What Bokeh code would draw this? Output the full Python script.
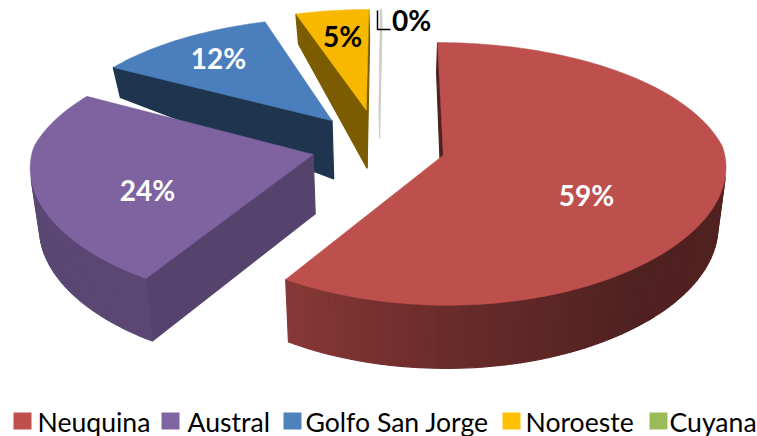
import numpy as np
from bokeh.plotting import figure
from bokeh.embed import file_html
from bokeh.resources import INLINE
from bokeh.core.properties import value

# ---- data ----
categories = ["Neuquina", "Austral", "Golfo San Jorge", "Noroeste", "Cuyana"]
shares = [59, 24, 12, 5, 0.1]
share_labels = ["59%", "24%", "12%", "5%", "0%"]

# ---- styles ----
legend_colors = ["#C0504D", "#8064A2", "#4F81BD", "#FFC000", "#9BBB59"]
top_colors = ["#BD4F4C", "#7F62A0", "#4A7EBC", "#F8B800", "#CDCFC8"]
label_colors = ["white", "white", "white", "black", "black"]
explode = [0.24, 0.24, 0.27, 0.30, 0.30]
radial_shade = [0.42, 0.68, 0.42, 0.50, 1.0]
depth_scale = [1, 1, 1, 1, 0.5]
label_pos = [(586, 194), (147, 189), (218, 57), (342, 35), (411, 19)]
swatch_x = [13, 161, 283, 502, 649]
legend_text_x = [37, 187, 305, 525, 669]

# projection of the tilted pie into the picture
VX, CX, CY, A, B, BOTTOM = 398, 378, 146, 280, 129, 0.975
KX_BACK, KX_FRONT, KY_BACK, KY_FRONT = 0.15, 0.08, 0.17, 0.125


def project(X, Y):
    sx = 1 / (1 + np.where(Y > 0, KX_BACK, KX_FRONT) * Y)
    sy = 1 / (1 + np.where(Y > 0, KY_BACK, KY_FRONT) * Y)
    return VX + (CX - VX + A * X) * sx, CY - B * Y * sy


def drop(x, y, Y, f):
    d = np.interp(Y, [-1.3, 0.3, 0.67, 1.4], [64, 58, 30, 30]) * f
    return VX + (x - VX) * BOTTOM, y + d


def hex_shade(col, f):
    rgb = [int(col[i:i + 2], 16) for i in (1, 3, 5)]
    return "#%02x%02x%02x" % tuple(int(round(c * f)) for c in rgb)


def rim_shade(theta):
    return float(np.interp(theta, [90, 140, 180, 212, 255, 300], [0.43, 0.42, 0.56, 0.72, 0.72, 0.8]))


p = figure(width=757, height=436, x_range=(0, 757), y_range=(436, 0),
           output_backend="svg", toolbar_location=None, min_border=0,
           x_axis_location=None, y_axis_location=None)
p.grid.visible = False
p.outline_line_color = None

edges = np.cumsum([0] + shares) / sum(shares) * 360
paint_order = [4, 3, 2, 1, 0]

for i in paint_order:
    a0, a1 = edges[i], edges[i + 1]
    mid = np.radians((a0 + a1) / 2)
    ox, oy = explode[i] * np.sin(mid), explode[i] * np.cos(mid)
    n = max(2, int((a1 - a0) / 1.5) + 1)
    th = np.radians(np.linspace(a0, a1, n))
    GX = np.r_[ox, ox + np.sin(th)]
    GY = np.r_[oy, oy + np.cos(th)]
    tx, ty = project(GX, GY)
    bx, by = drop(tx, ty, GY, depth_scale[i])
    m = len(tx)
    xs, ys, cols = [], [], []
    for j in range(m):
        k = (j + 1) % m
        qx = [tx[j], tx[k], bx[k], bx[j]]
        qy = [ty[j], ty[k], by[k], by[j]]
        area = sum(qx[q] * qy[(q + 1) % 4] - qx[(q + 1) % 4] * qy[q] for q in range(4))
        if area >= -1:
            continue
        if j == 0 or j == m - 1:
            f = radial_shade[i]
        else:
            f = rim_shade(np.degrees(th[j - 1]))
        xs.append(qx)
        ys.append(qy)
        cols.append(hex_shade(top_colors[i], f))
    if xs:
        p.patches(xs, ys, fill_color=cols, line_color=cols, line_width=1.2)
    p.patch(tx, ty, fill_color=top_colors[i], line_color=top_colors[i], line_width=0.5)

# leader line of the 0% label
p.line([377, 377, 390], [10, 29, 29], line_color="black", line_width=1.5)

# data labels
p.text([q[0] for q in label_pos], [q[1] for q in label_pos], text=share_labels,
       text_color=label_colors, text_font=value("Lato"), text_font_style="bold",
       text_font_size="28px", text_align="center", text_baseline="middle")

# legend
sw = np.array(swatch_x)
p.quad(left=sw, right=sw + 18, top=412, bottom=429, fill_color=legend_colors, line_color=None)
p.text(legend_text_x, [421] * 5, text=categories, text_color="black",
       text_font=value("Lato"), text_font_size="26.6px",
       text_align="left", text_baseline="middle")

open("out.html", "w").write(file_html(p, INLINE))
